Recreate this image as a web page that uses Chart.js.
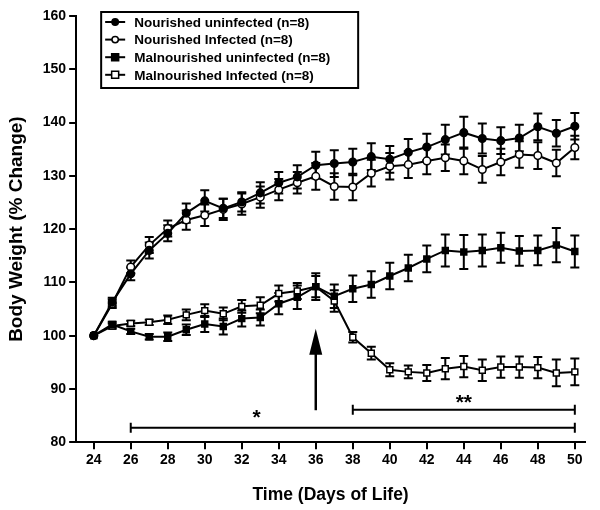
<!DOCTYPE html>
<html>
<head>
<meta charset="utf-8">
<script src="https://cdn.jsdelivr.net/npm/chart.js@4.4.1/dist/chart.umd.min.js"></script>
<style>
  html, body { margin: 0; padding: 0; background: #fff; }
  #wrap { width: 600px; height: 510px; }
</style>
</head>
<body>
<div id="wrap"><canvas id="c"></canvas></div>
<script>
// days of life
var days = [24, 25, 26, 27, 28, 29, 30, 31, 32, 33, 34, 35, 36, 37, 38, 39, 40, 41, 42, 43, 44, 45, 46, 47, 48, 49, 50];
var xTicks = [24, 26, 28, 30, 32, 34, 36, 38, 40, 42, 44, 46, 48, 50];
var yTicks = [80, 90, 100, 110, 120, 130, 140, 150, 160];

// body weight, % change
var nourishedUninf = [100, 106.3, 111.6, 116.0, 119.2, 123.0, 125.3, 123.9, 125.1, 126.8, 128.7, 129.8, 132.0, 132.3, 132.6, 133.6, 133.1, 134.4, 135.4, 136.8, 138.1, 137.0, 136.6, 137.1, 139.2, 138.0, 139.3];
var nourishedInf = [100, 106.0, 112.9, 117.0, 120.1, 121.7, 122.6, 123.7, 124.7, 126.0, 127.4, 128.7, 129.9, 128.0, 127.9, 130.5, 131.8, 132.1, 132.8, 133.4, 132.8, 131.2, 132.6, 134.0, 133.8, 132.4, 135.3];
var malUninf = [100, 102.1, 100.8, 99.8, 99.8, 101.1, 102.2, 101.7, 103.2, 103.4, 106.0, 107.2, 109.2, 107.4, 108.8, 109.6, 111.2, 112.7, 114.4, 116.0, 115.7, 116.0, 116.5, 115.9, 116.0, 117.0, 115.8];
var malInf = [100, 101.8, 102.3, 102.5, 103.0, 103.9, 104.7, 104.1, 105.5, 105.7, 107.9, 108.4, 109.2, 106.5, 99.7, 96.7, 93.6, 93.2, 93.0, 93.8, 94.2, 93.5, 94.1, 94.1, 94.0, 93.0, 93.2];

// SEM
var nourishedUninfErr = [0, 0.8, 1.2, 1.5, 1.5, 1.8, 2.0, 1.8, 1.8, 2.0, 2.0, 2.2, 2.5, 2.5, 2.5, 2.5, 2.5, 2.5, 2.5, 2.8, 3.0, 2.8, 2.5, 2.5, 2.5, 2.5, 2.5];
var nourishedInfErr = [0, 0.8, 1.2, 1.5, 1.5, 1.8, 2.0, 2.0, 2.0, 2.0, 2.0, 2.0, 2.5, 2.5, 2.5, 2.5, 2.5, 2.5, 2.5, 2.5, 2.5, 2.5, 2.5, 2.5, 2.5, 2.5, 2.2];
var malUninfErr = [0, 0.5, 0.5, 0.5, 0.8, 1.0, 1.5, 1.5, 1.5, 1.5, 2.0, 2.2, 2.5, 2.2, 2.5, 2.5, 2.5, 2.5, 2.5, 3.0, 3.2, 3.0, 2.8, 2.8, 2.8, 3.2, 3.0];
var malInfErr = [0, 0.5, 0.5, 0.5, 0.8, 1.0, 1.2, 1.2, 1.2, 1.5, 1.5, 1.5, 2.0, 2.0, 1.0, 1.2, 1.2, 1.2, 1.5, 2.0, 2.0, 2.0, 2.0, 2.0, 2.0, 2.5, 2.5];

var seriesLabels = ["Nourished uninfected (n=8)", "Nourished Infected (n=8)", "Malnourished uninfected (n=8)", "Malnourished Infected (n=8)"];

// significance brackets: [from day, to day, y value, label, label day, label y]
var brackets = [
    [26, 50, 82.7, "*", 32.8, 85.3],
    [38, 50, 86.1, "**", 44, 88.0]
];
// arrow at day 36: [day, from y, to y]
var arrow = [36, 86.0, 101.3];

var FONT = "'Liberation Sans', Arial, sans-serif";

function pairs(vals, errs) {
    return days.map(function (d, i) { return {x: d, y: vals[i], err: errs[i]}; });
}

function makeSet(label, vals, errs, style, fill) {
    return {
        label: label,
        data: pairs(vals, errs),
        borderColor: "#000",
        borderWidth: 2,
        backgroundColor: fill,
        pointStyle: style,
        pointRadius: style === "rect" ? 4.2 : 3.8,
        pointBorderWidth: 1.5,
        pointBorderColor: "#000",
        pointBackgroundColor: fill,
        tension: 0
    };
}

var errorBars = {
    id: "errorBars",
    beforeDatasetsDraw: function (chart) {
        var ctx = chart.ctx, y = chart.scales.y;
        ctx.save();
        ctx.strokeStyle = "#000";
        ctx.lineWidth = 2;
        chart.data.datasets.forEach(function (ds, di) {
            var meta = chart.getDatasetMeta(di);
            meta.data.forEach(function (pt, i) {
                var e = ds.data[i].err;
                if (!e) return;
                var top = y.getPixelForValue(ds.data[i].y + e);
                var bot = y.getPixelForValue(ds.data[i].y - e);
                ctx.beginPath();
                ctx.moveTo(pt.x, top); ctx.lineTo(pt.x, bot);
                ctx.moveTo(pt.x - 4.5, top); ctx.lineTo(pt.x + 4.5, top);
                ctx.moveTo(pt.x - 4.5, bot); ctx.lineTo(pt.x + 4.5, bot);
                ctx.stroke();
            });
        });
        ctx.restore();
    }
};

var extras = {
    id: "extras",
    afterDraw: function (chart) {
        var ctx = chart.ctx, xs = chart.scales.x, ys = chart.scales.y, area = chart.chartArea;
        ctx.save();
        ctx.strokeStyle = "#000";
        ctx.fillStyle = "#000";
        ctx.lineWidth = 2;

        brackets.forEach(function (b) {
            var x1 = xs.getPixelForValue(b[0]), x2 = xs.getPixelForValue(b[1]), yy = ys.getPixelForValue(b[2]);
            ctx.beginPath();
            ctx.moveTo(x1, yy); ctx.lineTo(x2, yy);
            ctx.moveTo(x1, yy - 5); ctx.lineTo(x1, yy + 5);
            ctx.moveTo(x2, yy - 5); ctx.lineTo(x2, yy + 5);
            ctx.stroke();
            ctx.font = "bold 21px " + FONT;
            ctx.textAlign = "center";
            ctx.textBaseline = "middle";
            ctx.fillText(b[3], xs.getPixelForValue(b[4]), ys.getPixelForValue(b[5]) + 4);
        });

        var ax = xs.getPixelForValue(arrow[0]);
        var ay1 = ys.getPixelForValue(arrow[1]), ay2 = ys.getPixelForValue(arrow[2]);
        ctx.lineWidth = 2.5;
        ctx.beginPath();
        ctx.moveTo(ax, ay1); ctx.lineTo(ax, ay2 + 10);
        ctx.stroke();
        ctx.beginPath();
        ctx.moveTo(ax, ay2);
        ctx.lineTo(ax - 6.5, ay2 + 26);
        ctx.lineTo(ax + 6.5, ay2 + 26);
        ctx.closePath();
        ctx.fill();

        // legend box
        var lx = area.left + 25, ly = area.top - 4, lw = 257, lh = 76;
        ctx.lineWidth = 2;
        ctx.strokeRect(lx, ly, lw, lh);
        var styles = ["circle", "circle", "rect", "rect"];
        var fills = ["#000", "#fff", "#000", "#fff"];
        ctx.font = "bold 13.5px " + FONT;
        ctx.textAlign = "left";
        ctx.textBaseline = "middle";
        seriesLabels.forEach(function (t, i) {
            var yy = ly + 10 + i * 17.6;
            ctx.lineWidth = 2;
            ctx.beginPath();
            ctx.moveTo(lx + 4, yy); ctx.lineTo(lx + 24, yy);
            ctx.stroke();
            ctx.lineWidth = 1.5;
            ctx.fillStyle = fills[i];
            ctx.beginPath();
            if (styles[i] === "circle") ctx.arc(lx + 14, yy, 3.2, 0, Math.PI * 2);
            else ctx.rect(lx + 10.5, yy - 3.5, 7, 7);
            ctx.fill();
            ctx.stroke();
            ctx.fillStyle = "#000";
            ctx.fillText(t, lx + 33, yy + 1);
        });
        ctx.restore();
    }
};

new Chart(document.getElementById("c"), {
    type: "line",
    data: {
        datasets: [
            makeSet(seriesLabels[0], nourishedUninf, nourishedUninfErr, "circle", "#000"),
            makeSet(seriesLabels[1], nourishedInf, nourishedInfErr, "circle", "#fff"),
            makeSet(seriesLabels[2], malUninf, malUninfErr, "rect", "#000"),
            makeSet(seriesLabels[3], malInf, malInfErr, "rect", "#fff")
        ]
    },
    options: {
        responsive: true,
        maintainAspectRatio: false,
        animation: false,
        layout: { padding: { left: 5, right: 15, top: 16, bottom: 4 } },
        plugins: {
            legend: { display: false },
            tooltip: { enabled: false }
        },
        scales: {
            x: {
                type: "linear",
                min: 23.05,
                max: 50.55,
                afterBuildTicks: function (s) { s.ticks = xTicks.map(function (v) { return {value: v}; }); },
                grid: { drawOnChartArea: false, drawTicks: true, tickLength: 7, color: "#000", lineWidth: 2 },
                border: { display: true, color: "#000", width: 2 },
                ticks: { color: "#000", font: { family: FONT, weight: "bold", size: 14 }, padding: 3, maxRotation: 0, autoSkip: false },
                title: { display: true, text: "Time (Days of Life)", color: "#000", font: { family: FONT, weight: "bold", size: 17.5 }, padding: { top: 13, bottom: 0 } }
            },
            y: {
                min: 80,
                max: 160,
                afterBuildTicks: function (s) { s.ticks = yTicks.map(function (v) { return {value: v}; }); },
                grid: { drawOnChartArea: false, drawTicks: true, tickLength: 7, color: "#000", lineWidth: 2 },
                border: { display: true, color: "#000", width: 2 },
                ticks: { color: "#000", font: { family: FONT, weight: "bold", size: 14 }, padding: 3 },
                title: { display: true, text: "Body Weight (% Change)", color: "#000", font: { family: FONT, weight: "bold", size: 19 }, padding: { top: 0, bottom: 12 } }
            }
        }
    },
    plugins: [errorBars, extras]
});
</script>
</body>
</html>
